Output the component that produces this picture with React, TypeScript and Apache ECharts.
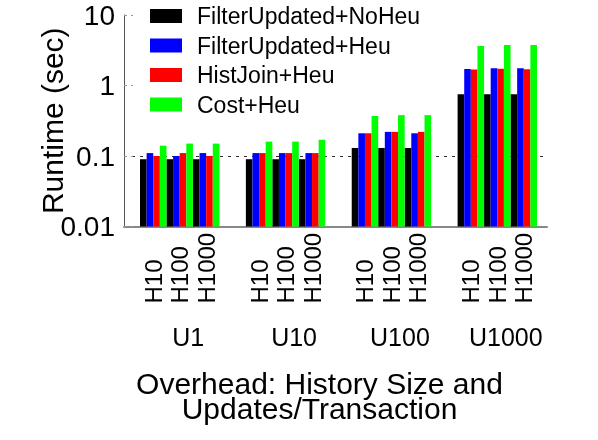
import React, { useEffect, useRef } from 'react';
import * as echarts from 'echarts';

const updateGroups = ['U1', 'U10', 'U100', 'U1000'];
const historySizes = ['H10', 'H100', 'H1000'];
const seriesNames = ['FilterUpdated+NoHeu', 'FilterUpdated+Heu', 'HistJoin+Heu', 'Cost+Heu'];
const seriesColors = ['#000000', '#0000ff', '#ff0000', '#00ff00'];
// order: U1 (H10,H100,H1000), U10 (...), U100 (...), U1000 (...)
const filterUpdatedNoHeu = [0.09, 0.09, 0.09, 0.09, 0.09, 0.09, 0.13, 0.13, 0.13, 0.75, 0.75, 0.75];
const filterUpdatedHeu = [0.11, 0.1, 0.11, 0.11, 0.11, 0.11, 0.21, 0.22, 0.21, 1.71, 1.75, 1.75];
const histJoinHeu = [0.1, 0.11, 0.1, 0.11, 0.11, 0.11, 0.21, 0.22, 0.22, 1.68, 1.73, 1.7];
const costHeu = [0.14, 0.15, 0.15, 0.16, 0.16, 0.17, 0.37, 0.38, 0.38, 3.63, 3.75, 3.75];
const yMin = 0.01;
const yMax = 10;
const xTitle = 'Overhead: History Size and\nUpdates/Transaction';
const yTitle = 'Runtime (sec)';

const FONT = 'Liberation Sans, Arial, Helvetica, sans-serif';

export default function App() {
  const ref = useRef<HTMLDivElement>(null);
  useEffect(() => {
    if (!ref.current) return;
    const chart = echarts.init(ref.current, undefined, { renderer: 'svg' });
    const allSeries = [filterUpdatedNoHeu, filterUpdatedHeu, histJoinHeu, costHeu];

    // categories with a blank slot between update groups
    const categories: string[] = [];
    const catIndexOfPoint: number[] = [];
    updateGroups.forEach((u, gi) => {
      if (gi > 0) categories.push('gap' + gi);
      historySizes.forEach((h) => {
        catIndexOfPoint.push(categories.length);
        categories.push(u + '|' + h);
      });
    });
    const nSeries = seriesNames.length;

    const series = allSeries.map((vals, k) => ({
      name: seriesNames[k],
      type: 'custom',
      xAxisIndex: 0,
      yAxisIndex: 0,
      itemStyle: { color: seriesColors[k] },
      encode: { x: 0, y: 1 },
      data: vals.map((v, i) => [catIndexOfPoint[i], v]),
      renderItem: (params: any, api: any) => {
        const idx = api.value(0);
        const val = api.value(1);
        const top = api.coord([idx, val]);
        const base = api.coord([idx, yMin]);
        const band = api.size([1, 1])[0];
        const w = band / nSeries;
        const x = top[0] - band / 2 + k * w;
        return {
          type: 'rect',
          shape: { x, y: top[1], width: w, height: base[1] - top[1] },
          style: { fill: api.visual('color') },
        };
      },
    }));

    const gridTop = 15;
    const gridBottom = 213.5;

    chart.setOption({
      animation: false,
      textStyle: { fontFamily: FONT },
      legend: {
        orient: 'vertical',
        left: 150,
        top: 4.5,
        padding: 0,
        itemWidth: 32,
        itemHeight: 14,
        itemGap: 6.5,
        icon: 'rect',
        textStyle: { fontSize: 23, color: '#000', fontFamily: FONT, padding: [0, 0, 0, 10] },
        data: seriesNames,
      },
      grid: [
        { left: 140, right: 61, top: gridTop, bottom: gridBottom },
        { left: 124, right: 51, top: gridTop, bottom: gridBottom },
      ],
      xAxis: [
        {
          type: 'category',
          gridIndex: 0,
          position: 'bottom',
          data: categories,
          axisLine: { show: false },
          axisTick: { show: false },
          axisLabel: {
            interval: 0,
            rotate: 90,
            align: 'left',
            margin: 77,
            fontSize: 24,
            color: '#000',
            fontFamily: FONT,
            padding: [0, 0, 7, 0],
            formatter: (v: string) => (v.startsWith('gap') ? '' : v.split('|')[1]),
          },
        },
        {
          type: 'category',
          gridIndex: 0,
          position: 'bottom',
          data: categories,
          axisLine: { show: false },
          axisTick: { show: false },
          axisLabel: {
            interval: 0,
            margin: 98,
            fontSize: 25,
            color: '#000',
            fontFamily: FONT,
            padding: [0, 0, 0, 17],
            formatter: (v: string) => {
              if (v.startsWith('gap')) return '';
              const [u, h] = v.split('|');
              return h === historySizes[1] ? u : '';
            },
          },
        },
        {
          type: 'value',
          gridIndex: 1,
          min: 0,
          max: 1,
          axisLine: { show: true, onZero: false, lineStyle: { color: '#888', width: 2 } },
          axisTick: { show: false },
          axisLabel: { show: false },
          splitLine: { show: false },
        },
      ],
      yAxis: [
        { type: 'log', gridIndex: 0, min: yMin, max: yMax, logBase: 10, show: false },
        {
          type: 'log',
          gridIndex: 1,
          min: yMin,
          max: yMax,
          logBase: 10,
          axisLine: { show: true, lineStyle: { color: '#555', width: 1 } },
          axisTick: { show: true, inside: true, length: 9, lineStyle: { color: '#999', type: [3, 4] } },
          axisLabel: { fontSize: 28, color: '#000', margin: 9, fontFamily: FONT },
          splitLine: {
            show: true,
            lineStyle: {
              color: ['rgba(0,0,0,0)', '#333', 'rgba(0,0,0,0)', 'rgba(0,0,0,0)'],
              type: [3, 5],
              width: 1,
            },
          },
          name: yTitle,
          nameLocation: 'middle',
          nameGap: 57,
          nameMoveOverlap: false,
          nameTextStyle: { fontSize: 30, color: '#000', fontFamily: FONT },
        },
      ],
      graphic: [
        {
          type: 'text',
          x: 319.5,
          y: 395.5,
          style: { text: xTitle, fontSize: 30, lineHeight: 25, fontFamily: FONT, fill: '#000', align: 'center', verticalAlign: 'middle' },
        },
      ],
      series,
    });
    return () => chart.dispose();
  }, []);
  return <div ref={ref} style={{ position: 'fixed', left: 0, top: 0, width: 598, height: 440 }} />;
}
